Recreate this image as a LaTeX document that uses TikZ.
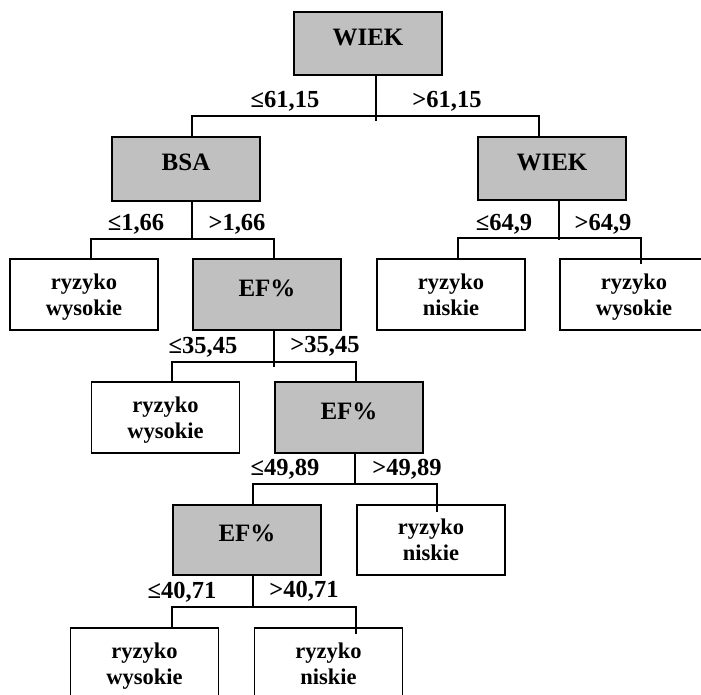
\documentclass[tikz,border=0pt]{standalone}
\usepackage{fontspec}
\setmainfont{Liberation Serif}
\usetikzlibrary{calc}
\definecolor{boxgray}{RGB}{192,192,192}
\newcommand\twoline[2]{\rule{0pt}{20pt}#1\\#2\rule[-5pt]{0pt}{5pt}}
\newcommand\oneline[1]{\rule[-13pt]{0pt}{24pt}#1}
\tikzset{
  box/.style={draw=black, line width=1.6pt, minimum width=148pt, inner sep=0pt, align=center},
  gbox/.style={box, fill=boxgray, font=\fontsize{25}{27}\selectfont\bfseries},
  wbox/.style={box, fill=white, font=\fontsize{22.5}{26}\selectfont\bfseries},
  lbl/.style={anchor=base, inner sep=0pt, font=\fontsize{24.5}{27}\selectfont\bfseries},
  conn/.style={line width=1.4pt, draw=black},
}
\begin{document}
\begin{tikzpicture}[x=1pt,y=-1pt]
\useasboundingbox (0,0) rectangle (701,695);
\clip (0,0) rectangle (701,695);
% nodes
\node[gbox, minimum height=63pt] (root) at (368,43.5) {\oneline{WIEK}};
\node[gbox, minimum height=64pt] (bsa) at (186,169) {\oneline{BSA}};
\node[gbox, minimum height=63pt] (wiek2) at (552,168.5) {\oneline{WIEK}};
\node[wbox, minimum height=71pt] (rw1) at (84,294.5) {\twoline{ryzyko}{wysokie}};
\node[gbox, minimum height=71pt] (ef1) at (267,294.5) {\oneline{EF\%}};
\node[wbox, minimum height=71pt] (rn1) at (451,294.5) {\twoline{ryzyko}{niskie}};
\node[wbox, minimum height=71pt] (rw2) at (634,294.5) {\twoline{ryzyko}{wysokie}};
\node[wbox, minimum height=71pt] (rw3) at (165.5,417.5) {\twoline{ryzyko}{wysokie}};
\node[gbox, minimum height=71pt] (ef2) at (349,417.5) {\oneline{EF\%}};
\node[gbox, minimum height=70pt] (ef3) at (247,540) {\oneline{EF\%}};
\node[wbox, minimum height=70pt] (rn3) at (431,540) {\twoline{ryzyko}{niskie}};
\node[wbox, minimum height=71pt] (rw4) at (144.5,663.5) {\twoline{ryzyko}{wysokie}};
\node[wbox, minimum height=71pt] (rn4) at (328.5,663.5) {\twoline{ryzyko}{niskie}};
% connector coordinates
\coordinate (s0) at (376,121); \coordinate (b0l) at (192,116); \coordinate (b0r) at (539,116);
\coordinate (s1) at (192,240); \coordinate (b1l) at (91,239);  \coordinate (b1r) at (274,239);
\coordinate (s2) at (559,240); \coordinate (b2l) at (458,238); \coordinate (b2r) at (641,238); \coordinate (o2) at (641,264);
\coordinate (s3) at (274,367); \coordinate (b3l) at (172,362); \coordinate (b3r) at (356,362);
\coordinate (s4) at (355,485); \coordinate (b4l) at (253,484); \coordinate (b4r) at (437,484); \coordinate (o4) at (437,512);
\coordinate (s5) at (253,607); \coordinate (b5l) at (172,607); \coordinate (b5r) at (356,607); \coordinate (o5) at (356,634);
% connectors
\draw[conn] (root.south -| s0) -- (s0);
\draw[conn] (bsa.north -| b0l) -- (b0l) -- (b0r) -- (wiek2.north -| b0r);
\draw[conn] (bsa.south -| s1) -- (s1);
\draw[conn] (rw1.north -| b1l) -- (b1l) -- (b1r) -- (ef1.north -| b1r);
\draw[conn] (wiek2.south -| s2) -- (s2);
\draw[conn] (rn1.north -| b2l) -- (b2l) -- (b2r) -- (o2);
\draw[conn] (ef1.south -| s3) -- (s3);
\draw[conn] (rw3.north -| b3l) -- (b3l) -- (b3r) -- (ef2.north -| b3r);
\draw[conn] (ef2.south -| s4) -- (s4);
\draw[conn] (ef3.north -| b4l) -- (b4l) -- (b4r) -- (o4);
\draw[conn] (ef3.south -| s5) -- (s5);
\draw[conn] (rw4.north -| b5l) -- (b5l) -- (b5r) -- (o5);
% labels
\node[lbl] (l0a) at (285,108) {≤61,15};
\node[lbl] (l0b) at (447,108) {>61,15};
\node[lbl] (l1a) at (136,230) {≤1,66};
\node[lbl] (l1b) at (237,230) {>1,66};
\node[lbl] (l2a) at (504,230) {≤64,9};
\node[lbl] (l2b) at (603,230) {>64,9};
\node[lbl] (l3a) at (203,353) {≤35,45};
\node[lbl] (l3b) at (325,352) {>35,45};
\node[lbl] (l4a) at (285,475) {≤49,89};
\node[lbl] (l4b) at (407,475) {>49,89};
\node[lbl] (l5a) at (182,598) {≤40,71};
\node[lbl] (l5b) at (304,597) {>40,71};
\end{tikzpicture}
\end{document}
